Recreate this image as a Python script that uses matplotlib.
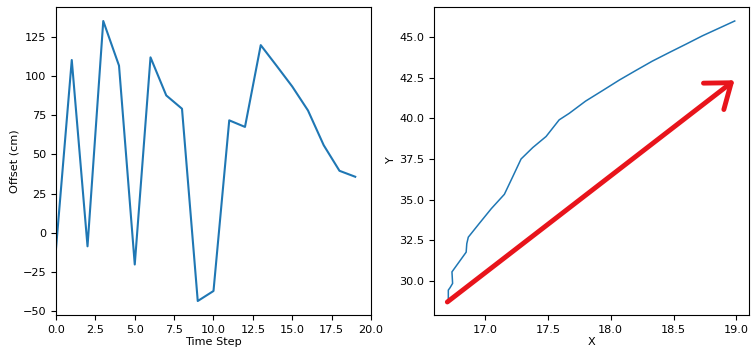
import matplotlib
matplotlib.use("Agg")
import matplotlib.pyplot as plt

# left panel: offset per time step
time_step = list(range(20))
offset_cm = [-10, 110.2, -8.7, 135.1, 106.6, -20.3, 111.9, 87.6, 79.1, -43.6,
             -37.2, 71.7, 67.5, 119.7, 106.6, 93.3, 78.0, 55.8, 39.5, 35.7]

# right panel: trajectory
traj_x = [16.708, 16.708, 16.722, 16.742, 16.737, 16.85, 16.855, 16.867, 16.95,
          17.05, 17.154, 17.22, 17.287, 17.38, 17.486, 17.59, 17.67, 17.80,
          17.94, 18.07, 18.20, 18.33, 18.47, 18.60, 18.73, 18.86, 18.987]
traj_y = [28.78, 29.45, 29.60, 29.86, 30.57, 31.78, 32.30, 32.70, 33.50,
          34.45, 35.33, 36.40, 37.50, 38.20, 38.88, 39.90, 40.30, 41.05,
          41.72, 42.35, 42.93, 43.50, 44.05, 44.55, 45.06, 45.52, 45.97]

# red trend arrow (tail, head) drawn over the trajectory
arrow_tail = (16.70, 28.72)
arrow_head = (18.985, 42.33)

plt.rcParams["font.size"] = 8.1

fig = plt.figure(figsize=(7.54, 3.53), dpi=100)
ax1 = fig.add_axes([0.0743, 0.1076, 0.4177, 0.8726])
ax2 = fig.add_axes([0.5756, 0.1076, 0.4178, 0.8726])

ax1.plot(time_step, offset_cm, color="#1f77b4", linewidth=1.5)
ax1.set_xlim(0, 20)
ax1.set_xlabel("Time Step", labelpad=1.5)
ax1.set_ylabel("Offset (cm)", labelpad=2)

ax2.plot(traj_x, traj_y, color="#1f77b4", linewidth=1.1)
ax2.annotate("", xy=arrow_head, xytext=arrow_tail,
             arrowprops=dict(arrowstyle="->, head_length=0.8, head_width=0.6",
                             color="#e8141b", linewidth=3.5, mutation_scale=20,
                             shrinkA=0, shrinkB=0))
ax2.set_xlabel("X", labelpad=1.5)
ax2.set_ylabel("Y", labelpad=2)

fig.savefig("out.png", dpi=100)
plt.close(fig)
